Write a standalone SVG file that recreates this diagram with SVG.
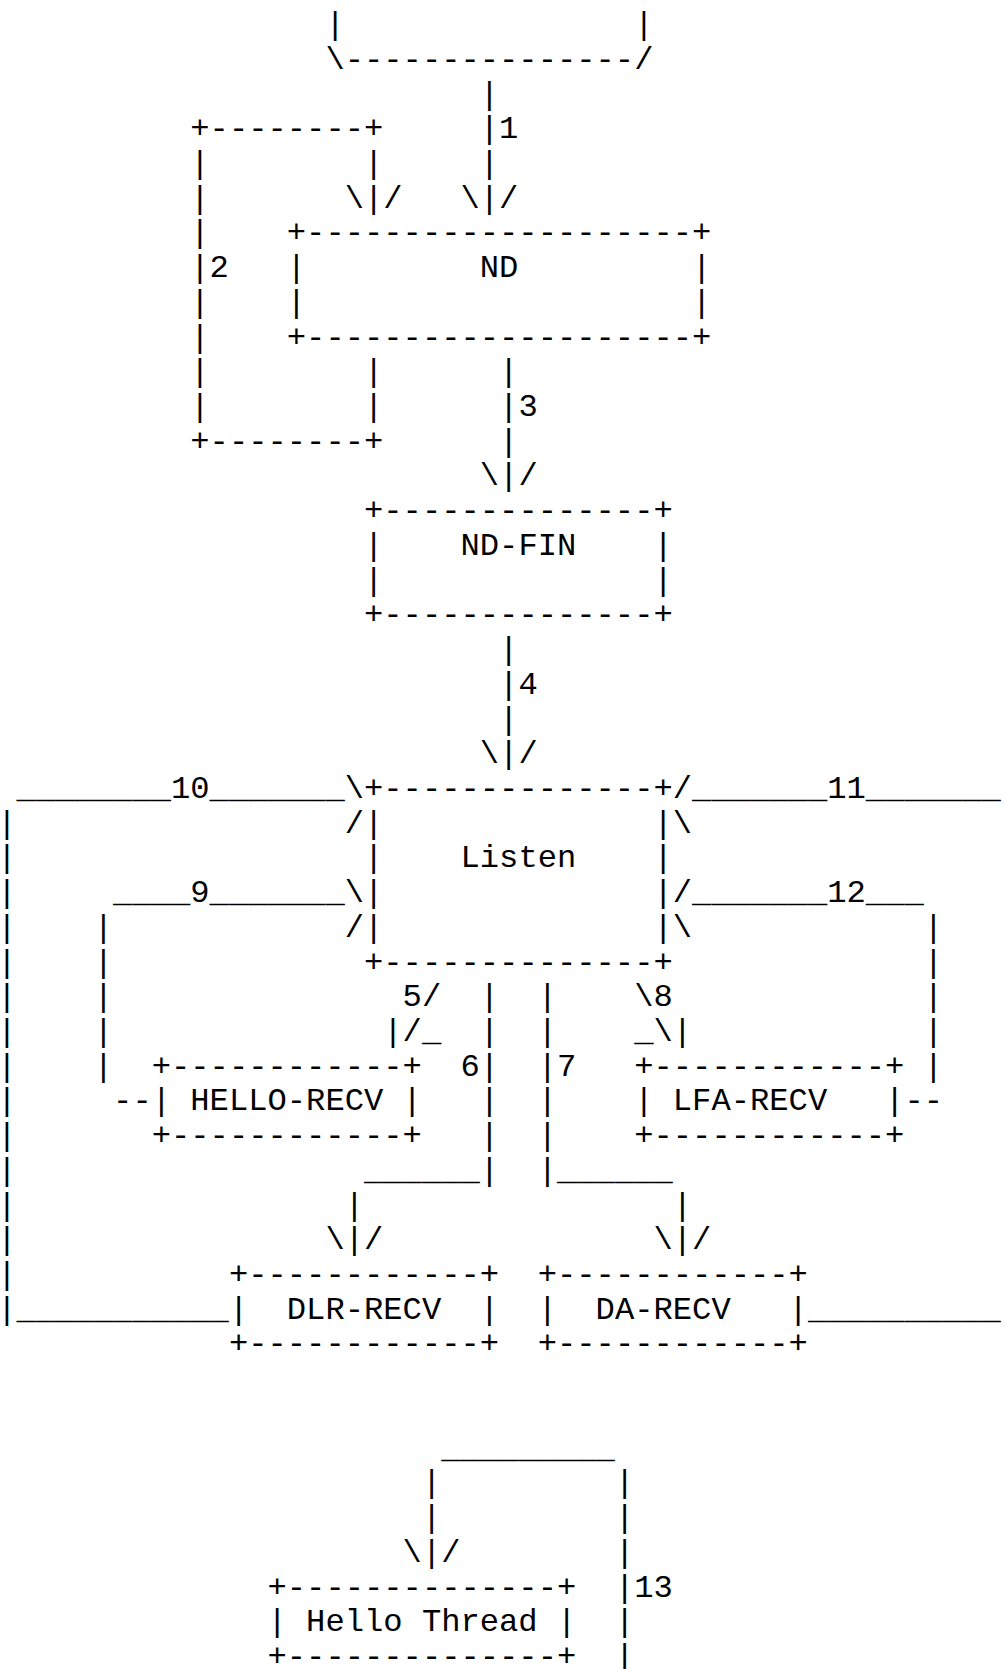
<svg xmlns="http://www.w3.org/2000/svg" width="1005" height="1669" viewBox="0 0 1005 1669">
<style>
text { font-family: "Liberation Mono", "DejaVu Sans Mono", monospace; font-size: 32.17px; fill: #000; white-space: pre; }
</style>
<rect width="1005" height="1669" fill="#fff"/>
<g id="top-box">
<text x="325.4" y="34.1">|</text><text x="634.2" y="34.1">|</text>
<text x="325.4" y="68.82">\---------------/</text>
</g>
<g id="nd">
<text x="286.8" y="242.42">+--------------------+</text>
<text x="286.8" y="277.14">|</text><text x="479.8" y="277.14">ND</text><text x="692.1" y="277.14">|</text>
<text x="286.8" y="311.86">|</text><text x="692.1" y="311.86">|</text>
<text x="286.8" y="346.58">+--------------------+</text>
</g>
<g id="nd-fin">
<text x="364" y="520.18">+--------------+</text>
<text x="364" y="554.9">|</text><text x="460.5" y="554.9">ND-FIN</text><text x="653.5" y="554.9">|</text>
<text x="364" y="589.62">|</text><text x="653.5" y="589.62">|</text>
<text x="364" y="624.34">+--------------+</text>
</g>
<g id="listen">
<text x="364" y="797.94">+--------------+</text>
<text x="364" y="832.66">|</text><text x="653.5" y="832.66">|</text>
<text x="364" y="867.38">|</text><text x="460.5" y="867.38">Listen</text><text x="653.5" y="867.38">|</text>
<text x="364" y="902.1">|</text><text x="653.5" y="902.1">|</text>
<text x="364" y="936.82">|</text><text x="653.5" y="936.82">|</text>
<text x="364" y="971.54">+--------------+</text>
</g>
<g id="hello-recv">
<text x="151.7" y="1075.7">+------------+</text>
<text x="151.7" y="1110.42">|</text><text x="190.3" y="1110.42">HELLO-RECV</text><text x="402.6" y="1110.42">|</text>
<text x="151.7" y="1145.14">+------------+</text>
</g>
<g id="lfa-recv">
<text x="634.2" y="1075.7">+------------+</text>
<text x="634.2" y="1110.42">|</text><text x="672.8" y="1110.42">LFA-RECV</text><text x="885.1" y="1110.42">|</text>
<text x="634.2" y="1145.14">+------------+</text>
</g>
<g id="dlr-recv">
<text x="228.9" y="1284.02">+------------+</text>
<text x="228.9" y="1318.74">|</text><text x="286.8" y="1318.74">DLR-RECV</text><text x="479.8" y="1318.74">|</text>
<text x="228.9" y="1353.46">+------------+</text>
</g>
<g id="da-recv">
<text x="537.7" y="1284.02">+------------+</text>
<text x="537.7" y="1318.74">|</text><text x="595.6" y="1318.74">DA-RECV</text><text x="788.6" y="1318.74">|</text>
<text x="537.7" y="1353.46">+------------+</text>
</g>
<g id="hello-thread">
<text x="267.5" y="1596.5">+--------------+</text>
<text x="267.5" y="1631.22">|</text><text x="306.1" y="1631.22">Hello Thread</text><text x="557" y="1631.22">|</text>
<text x="267.5" y="1665.94">+--------------+</text>
</g>
<g id="connectors">
<text x="479.8" y="103.54">|</text>
<text x="190.3" y="138.26">+--------+</text><text x="479.8" y="138.26">|</text><text x="499.1" y="138.26">1</text>
<text x="190.3" y="172.98">|</text><text x="364" y="172.98">|</text><text x="479.8" y="172.98">|</text>
<text x="190.3" y="207.7">|</text><text x="344.7" y="207.7">\|/</text><text x="460.5" y="207.7">\|/</text>
<text x="190.3" y="242.42">|</text>
<text x="190.3" y="277.14">|</text><text x="209.6" y="277.14">2</text>
<text x="190.3" y="311.86">|</text>
<text x="190.3" y="346.58">|</text>
<text x="190.3" y="381.3">|</text><text x="364" y="381.3">|</text><text x="499.1" y="381.3">|</text>
<text x="190.3" y="416.02">|</text><text x="364" y="416.02">|</text><text x="499.1" y="416.02">|</text><text x="518.4" y="416.02">3</text>
<text x="190.3" y="450.74">+--------+</text><text x="499.1" y="450.74">|</text>
<text x="479.8" y="485.46">\|/</text>
<text x="499.1" y="659.06">|</text>
<text x="499.1" y="693.78">|</text><text x="518.4" y="693.78">4</text>
<text x="499.1" y="728.5">|</text>
<text x="479.8" y="763.22">\|/</text>
<text x="16.6" y="797.94">________</text><text x="171" y="797.94">10</text><text x="209.6" y="797.94">_______\</text>
<text x="672.8" y="797.94">/_______</text><text x="827.2" y="797.94">11</text><text x="865.8" y="797.94">_______</text>
<text x="-2.7" y="832.66">|</text><text x="344.7" y="832.66">/</text><text x="672.8" y="832.66">\</text>
<text x="-2.7" y="867.38">|</text>
<text x="-2.7" y="902.1">|</text><text x="113.1" y="902.1">____</text><text x="190.3" y="902.1">9</text><text x="209.6" y="902.1">_______\</text>
<text x="672.8" y="902.1">/_______</text><text x="827.2" y="902.1">12</text><text x="865.8" y="902.1">___</text>
<text x="-2.7" y="936.82">|</text><text x="93.8" y="936.82">|</text><text x="344.7" y="936.82">/</text><text x="672.8" y="936.82">\</text><text x="923.7" y="936.82">|</text>
<text x="-2.7" y="971.54">|</text><text x="93.8" y="971.54">|</text><text x="923.7" y="971.54">|</text>
<text x="-2.7" y="1006.26">|</text><text x="93.8" y="1006.26">|</text><text x="402.6" y="1006.26">5</text><text x="421.9" y="1006.26">/</text><text x="479.8" y="1006.26">|</text><text x="537.7" y="1006.26">|</text><text x="634.2" y="1006.26">\</text><text x="653.5" y="1006.26">8</text><text x="923.7" y="1006.26">|</text>
<text x="-2.7" y="1040.98">|</text><text x="93.8" y="1040.98">|</text><text x="383.3" y="1040.98">|/_</text><text x="479.8" y="1040.98">|</text><text x="537.7" y="1040.98">|</text><text x="634.2" y="1040.98">_\|</text><text x="923.7" y="1040.98">|</text>
<text x="-2.7" y="1075.7">|</text><text x="93.8" y="1075.7">|</text><text x="460.5" y="1075.7">6</text><text x="479.8" y="1075.7">|</text><text x="537.7" y="1075.7">|</text><text x="557" y="1075.7">7</text><text x="923.7" y="1075.7">|</text>
<text x="-2.7" y="1110.42">|</text><text x="113.1" y="1110.42">--</text><text x="479.8" y="1110.42">|</text><text x="537.7" y="1110.42">|</text><text x="904.4" y="1110.42">--</text>
<text x="-2.7" y="1145.14">|</text><text x="479.8" y="1145.14">|</text><text x="537.7" y="1145.14">|</text>
<text x="-2.7" y="1179.86">|</text><text x="364" y="1179.86">______|</text><text x="537.7" y="1179.86">|______</text>
<text x="-2.7" y="1214.58">|</text><text x="344.7" y="1214.58">|</text><text x="672.8" y="1214.58">|</text>
<text x="-2.7" y="1249.3">|</text><text x="325.4" y="1249.3">\|/</text><text x="653.5" y="1249.3">\|/</text>
<text x="-2.7" y="1284.02">|</text>
<text x="-2.7" y="1318.74">|___________</text><text x="807.9" y="1318.74">__________</text>
<text x="441.2" y="1457.62">_________</text>
<text x="421.9" y="1492.34">|</text><text x="614.9" y="1492.34">|</text>
<text x="421.9" y="1527.06">|</text><text x="614.9" y="1527.06">|</text>
<text x="402.6" y="1561.78">\|/</text><text x="614.9" y="1561.78">|</text>
<text x="614.9" y="1596.5">|</text><text x="634.2" y="1596.5">13</text>
<text x="614.9" y="1631.22">|</text>
<text x="614.9" y="1665.94">|</text>
</g>
</svg>
